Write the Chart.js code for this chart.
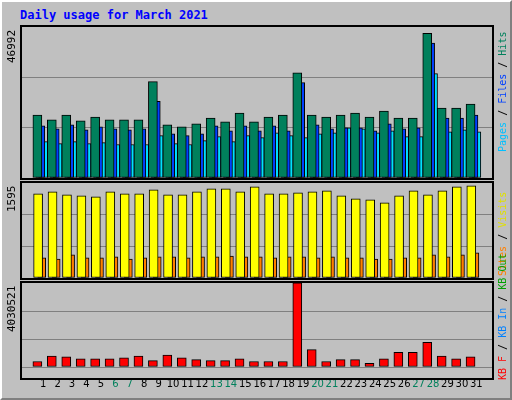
<!DOCTYPE html>
<html><head>
<script src="https://cdn.jsdelivr.net/npm/chart.js@4"></script>
<style>
body{margin:0;background:#fff;}
#wrap{position:absolute;left:0;top:0;width:508px;height:396px;background:#C0C0C0;border-left:2px solid #fff;border-top:2px solid #fff;border-right:2px solid #808080;border-bottom:2px solid #808080;font-family:"DejaVu Sans Mono",monospace;}
.c{position:absolute;}
.box{position:absolute;border:2px solid #000;box-sizing:border-box;pointer-events:none;}
.rot{position:absolute;transform-origin:left top;transform:rotate(-90deg);white-space:nowrap;font-size:11px;}
.rr{position:absolute;transform-origin:left top;transform:rotate(-90deg);white-space:nowrap;font-size:10px;}
</style>
</head><body>
<div id="wrap">
<div style="position:absolute;left:18px;top:6px;color:#0000FF;font-weight:bold;font-size:12px;">Daily usage for March 2021</div>
<canvas id="c1" class="c"></canvas>
<canvas id="c2" class="c"></canvas>
<canvas id="c3" class="c"></canvas>
<div class="box" style="left:18px;top:23px;width:474px;height:155px"></div>
<div class="box" style="left:18px;top:179px;width:474px;height:99px"></div>
<div class="box" style="left:18px;top:279px;width:474px;height:99px"></div>
<div class="rot" style="left:3px;top:61px">46992</div>
<div class="rot" style="left:3px;top:210px">1595</div>
<div class="rot" style="left:3px;top:330px">4030521</div>
<div class="rr" style="left:495px;top:150px"><span style="color:#00C0FF">Pages</span> / <span style="color:#0040FF">Files</span> / <span style="color:#00805C">Hits</span></div>
<div class="rr" style="left:495px;top:274px"><span style="color:#FF8000">Sites</span> / <span style="color:#E0E000">Visits</span></div>
<div class="rr" style="left:495px;top:378px"><span style="color:#FF0000">KB F</span> / <span style="color:#0080FF">KB In</span> / <span style="color:#00A000">KB Out</span></div>
</div>
<script>
var days = [];
for (var d = 1; d <= 31; d++) days.push(d);
var weekend = [6,7,13,14,20,21,27,28];
var hits = [20186,18609,20186,18293,19555,18609,18609,18609,30909,17032,16401,17347,19240,17978,20816,17978,19555,20186,33748,20186,19555,20186,20816,19555,21447,19240,19240,46364,22393,22393,23655];
var files = [16716,15770,17032,15455,16401,15770,15455,15770,24601,14193,13562,14193,16716,15139,16716,15139,16716,15139,30594,17032,15770,16085,16085,15139,17347,15770,16085,43210,19240,19240,20186];
var pages = [11670,11039,11670,11039,11354,10724,10724,10724,13562,11039,10724,11985,13247,11670,13562,12931,14508,13562,12931,14193,14508,16085,15770,14508,15139,13247,13247,33432,14824,15455,14824];
var visits = [1457,1491,1439,1422,1405,1491,1457,1457,1526,1439,1439,1491,1543,1543,1491,1578,1457,1457,1474,1491,1509,1422,1370,1353,1301,1422,1509,1439,1509,1578,1595];
var sites = [347,329,399,347,347,364,329,347,364,364,347,364,364,381,364,364,347,364,364,347,364,347,347,329,329,347,347,399,364,399,434];
var kbytes = [262860,525720,481910,394290,394290,394290,438100,525720,306670,569530,438100,350480,306670,306670,394290,262860,262860,262860,4030521,832390,262860,350480,350480,175240,394290,700960,700960,1182870,525720,394290,481910];
var maxHits = 46992, maxVisits = 1595, maxKB = 4030521;

Chart.defaults.animation = false;
Chart.defaults.devicePixelRatio = 1;

function pts(arr, shift) {
  return arr.map(function(v, i){ return {x: days[i] + shift, y: v}; });
}
function ds(arr, shift, color, w) {
  return {data: pts(arr, shift), backgroundColor: color, borderColor: '#000', borderWidth: 1, barThickness: w, grouped: false, borderSkipped: false};
}
function make(id, left, top, w, h, sets, max, showX) {
  var el = document.getElementById(id);
  el.style.left = left + 'px'; el.style.top = top + 'px';
  el.width = w; el.height = h;
  new Chart(el, {
    type: 'bar',
    data: {datasets: sets},
    options: {
      responsive: false,
      layout: {padding: 0},
      plugins: {legend: {display: false}, tooltip: {enabled: false}},
      scales: {
        x: {type: 'linear', min: 0.06, max: 31.56, display: showX,
            grid: {display: false}, border: {display: false},
            afterBuildTicks: function(ax){ ax.ticks = days.map(function(v){ return {value: v}; }); },
            ticks: {autoSkip: false, maxRotation: 0, padding: 3,
                    font: {family: 'DejaVu Sans', size: 10},
                    color: function(c){ return weekend.indexOf(c.tick.value) >= 0 ? '#00805C' : '#000'; }}},
        y: {min: 0, max: max * 1.03, display: true,
            afterBuildTicks: function(ax){ ax.ticks = [{value: 0}, {value: max * 1.03 / 3}, {value: max * 2.06 / 3}]; },
            ticks: {display: false}, border: {display: false},
            grid: {color: '#808080', drawTicks: false, lineWidth: 1}}
      }
    }
  });
}
make('c1', 20, 25, 470, 151, [ds(hits, -0.4, '#00805C', 9), ds(files, -0.2, '#0040FF', 9), ds(pages, 0, '#00E0FF', 9)], maxHits, false);
make('c2', 20, 181, 470, 95, [ds(visits, -0.35, '#FFFF00', 9), ds(sites, -0.1, '#FF8000', 8)], maxVisits, false);
make('c3', 20, 281, 470, 110, [ds(kbytes, -0.4, '#FF0000', 9)], maxKB * 0.97, true);
</script>
</body></html>
